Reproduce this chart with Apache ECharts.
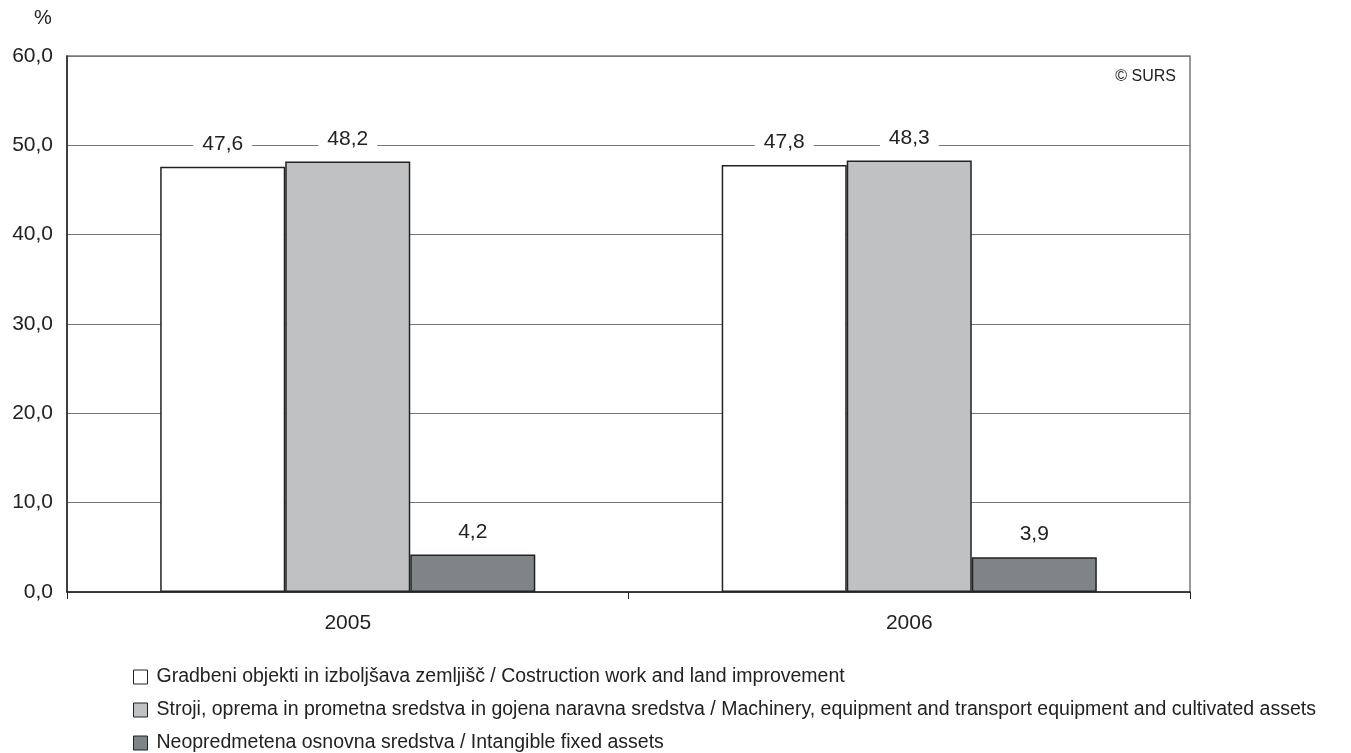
<!DOCTYPE html>
<html>
<head>
<meta charset="utf-8">
<script src="https://cdn.jsdelivr.net/npm/echarts@6/dist/echarts.min.js"></script>
<style>html,body{margin:0;padding:0;background:#fff;}#c{width:1351px;height:753px;}</style>
</head>
<body>
<div id="c"></div>
<script>
const categories = ['2005', '2006'];
const seriesNames = [
  'Gradbeni objekti in izboljšava zemljišč / Costruction work and land improvement',
  'Stroji, oprema in prometna sredstva in gojena naravna sredstva / Machinery, equipment and transport equipment and cultivated assets',
  'Neopredmetena osnovna sredstva / Intangible fixed assets'
];
const construction = [47.6, 47.8];
const machinery = [48.2, 48.3];
const intangible = [4.2, 3.9];
const colors = ['#ffffff', '#c0c1c3', '#7f8486'];
const values = [construction, machinery, intangible];

const font = 'Liberation Sans, Arial, sans-serif';
const chart = echarts.init(document.getElementById('c'), null, {renderer: 'canvas'});
const fmt = v => v.toFixed(1).replace('.', ',');

const legendTops = [667, 700, 733];

chart.setOption({
  animation: false,
  backgroundColor: '#fff',
  textStyle: {fontFamily: font},
  grid: {left: 67, right: 161, top: 56, bottom: 161, show: true, borderColor: '#777', borderWidth: 1.5, backgroundColor: 'transparent'},
  graphic: [
    {type: 'text', left: 34, top: 8, style: {text: '%', font: '20px ' + font, fill: '#222'}},
    {type: 'text', right: 175, top: 69, style: {text: '© SURS', font: '16px ' + font, fill: '#222'}}
  ],
  legend: seriesNames.map((n, i) => ({
    orient: 'vertical', left: 133, top: legendTops[i], padding: 0, itemWidth: 14, itemHeight: 14,
    icon: 'rect', selectedMode: false,
    textStyle: {fontFamily: font, fontSize: 19.5, color: '#222', padding: [0, 0, 0, 4]},
    data: [{name: n, itemStyle: {color: colors[i], borderColor: '#222', borderWidth: 1}}]
  })),
  xAxis: {
    type: 'category', data: categories,
    axisLine: {lineStyle: {color: '#222', width: 1.5}},
    axisTick: {show: true, length: 7, lineStyle: {color: '#222'}},
    axisLabel: {fontSize: 21, color: '#222', margin: 21, fontFamily: font},
    splitLine: {show: false}
  },
  yAxis: {
    type: 'value', min: 0, max: 60, interval: 10,
    axisLine: {show: true, lineStyle: {color: '#222', width: 1.5}},
    axisTick: {show: false},
    axisLabel: {fontSize: 21, color: '#222', margin: 14, fontFamily: font, formatter: v => fmt(v)},
    splitLine: {show: true, lineStyle: {color: '#777', width: 1.2}}
  },
  series: seriesNames.map((n, i) => ({
    name: n, type: 'bar', data: values[i],
    barGap: '0%', barCategoryGap: '33.2%',
    itemStyle: {color: colors[i], borderColor: '#222', borderWidth: 1.5},
    label: {
      show: true, position: 'top', distance: 11,
      formatter: p => fmt(p.value),
      fontSize: 21, color: '#222', fontFamily: font,
      backgroundColor: '#fff', padding: [1, 9]
    }
  }))
});
</script>
</body>
</html>
